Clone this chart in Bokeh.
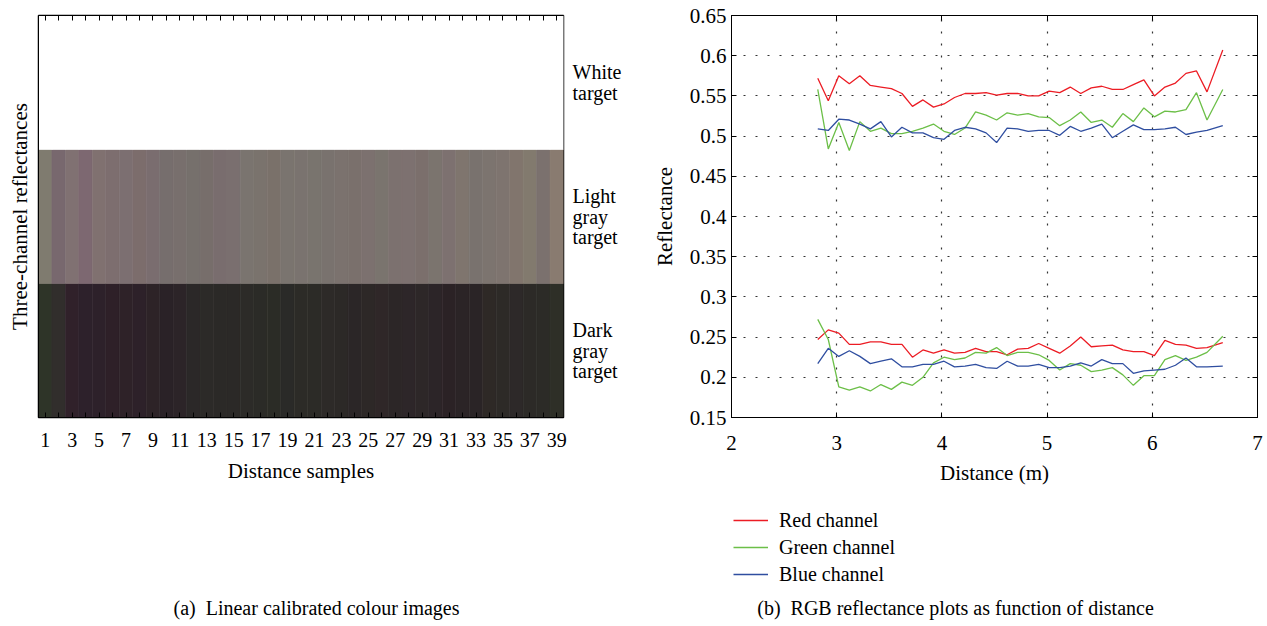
import numpy as np
from bokeh.plotting import figure
from bokeh.layouts import row, column
from bokeh.models import (ColumnDataSource, FixedTicker, Legend,
                          LegendItem, LinearAxis, Range1d)
from bokeh.embed import file_html
from bokeh.resources import INLINE

FONT = "Liberation Serif"

# ---------------------------------------------------------------- data
distance_m = [2.82, 2.92, 3.02, 3.12, 3.22, 3.32, 3.42, 3.52, 3.62, 3.72,
              3.82, 3.92, 4.02, 4.12, 4.22, 4.32, 4.42, 4.52, 4.62, 4.72,
              4.82, 4.92, 5.02, 5.12, 5.22, 5.32, 5.42, 5.52, 5.62, 5.72,
              5.82, 5.92, 6.02, 6.12, 6.22, 6.32, 6.42, 6.52, 6.67]

# light gray target, per channel
light_red = [0.572, 0.544, 0.575, 0.565, 0.575, 0.563, 0.561, 0.559, 0.553, 0.537,
             0.545, 0.536, 0.540, 0.548, 0.553, 0.553, 0.554, 0.551, 0.553, 0.553,
             0.550, 0.550, 0.556, 0.554, 0.561, 0.553, 0.560, 0.562, 0.558, 0.558,
             0.564, 0.570, 0.550, 0.561, 0.566, 0.578, 0.581, 0.555, 0.607]
light_green = [0.558, 0.484, 0.517, 0.482, 0.518, 0.506, 0.510, 0.503, 0.503, 0.506,
               0.510, 0.515, 0.506, 0.502, 0.510, 0.530, 0.526, 0.520, 0.529, 0.526,
               0.528, 0.524, 0.523, 0.513, 0.520, 0.530, 0.517, 0.520, 0.511, 0.528,
               0.518, 0.535, 0.524, 0.531, 0.530, 0.533, 0.554, 0.520, 0.558]
light_blue = [0.509, 0.507, 0.521, 0.520, 0.515, 0.509, 0.518, 0.499, 0.511, 0.504,
              0.504, 0.498, 0.496, 0.507, 0.511, 0.509, 0.504, 0.492, 0.510, 0.509,
              0.506, 0.507, 0.507, 0.501, 0.512, 0.506, 0.510, 0.515, 0.498, 0.506,
              0.514, 0.508, 0.508, 0.509, 0.511, 0.502, 0.505, 0.507, 0.513]

# dark gray target, per channel
dark_red = [0.247, 0.259, 0.255, 0.241, 0.241, 0.244, 0.244, 0.241, 0.241, 0.225,
            0.234, 0.230, 0.234, 0.230, 0.231, 0.236, 0.232, 0.232, 0.228, 0.235,
            0.236, 0.242, 0.236, 0.230, 0.239, 0.250, 0.238, 0.239, 0.240, 0.234,
            0.232, 0.232, 0.227, 0.246, 0.241, 0.240, 0.236, 0.237, 0.243]
dark_green = [0.272, 0.247, 0.188, 0.184, 0.188, 0.183, 0.191, 0.185, 0.194, 0.190,
              0.200, 0.218, 0.225, 0.222, 0.224, 0.231, 0.230, 0.237, 0.227, 0.231,
              0.231, 0.228, 0.221, 0.209, 0.217, 0.215, 0.207, 0.209, 0.212, 0.203,
              0.190, 0.202, 0.202, 0.222, 0.227, 0.221, 0.225, 0.231, 0.251]
dark_blue = [0.217, 0.236, 0.226, 0.233, 0.226, 0.217, 0.220, 0.223, 0.213, 0.213,
             0.216, 0.216, 0.220, 0.213, 0.214, 0.216, 0.212, 0.211, 0.220, 0.214,
             0.214, 0.216, 0.212, 0.212, 0.214, 0.218, 0.214, 0.222, 0.217, 0.217,
             0.205, 0.208, 0.209, 0.210, 0.215, 0.224, 0.213, 0.213, 0.214]

sample_ticks = list(range(1, 40))
sample_tick_labels = [str(i) if i % 2 else "" for i in sample_ticks]
target_rows = [0.5, 1.5, 2.5]
target_names = ["Dark\ngray\ntarget", "Light\ngray\ntarget", "White\ntarget"]

refl_ticks = [0.15, 0.2, 0.25, 0.3, 0.35, 0.4, 0.45, 0.5, 0.55, 0.6, 0.65]
refl_tick_labels = ["0.15", "0.2", "0.25", "0.3", "0.35", "0.4", "0.45",
                    "0.5", "0.55", "0.6", "0.65"]
dist_ticks = [2, 3, 4, 5, 6, 7]

channel_names = ["Red channel", "Green channel", "Blue channel"]
channel_colors = ["#ec1c24", "#6cbf48", "#2f4ea0"]

captions = ["(a)\u00a0 Linear calibrated colour images",
            "(b)\u00a0 RGB reflectance plots as function of distance"]


def to_display(refl):
    """Linear reflectance -> 8-bit display value."""
    v = 255 * 0.975 * np.clip(np.asarray(refl, dtype=float), 0, None) ** 1.2
    return np.clip(np.round(v), 0, 255).astype(int)


def hex_colours(r, g, b):
    return ["#%02x%02x%02x" % t for t in zip(to_display(r), to_display(g), to_display(b))]


def blank_axis(ticks):
    return LinearAxis(ticker=FixedTicker(ticks=ticks),
                      major_label_overrides={t: "" for t in ticks},
                      major_tick_in=5, major_tick_out=0,
                      minor_tick_line_color=None,
                      axis_line_color="black", major_tick_line_color="black")


def style_axis(ax, tick_size, label_size):
    ax.minor_tick_line_color = None
    ax.major_label_text_font = FONT
    ax.major_label_text_font_size = tick_size
    ax.major_label_text_color = "black"
    ax.axis_label_text_font = FONT
    ax.axis_label_text_font_size = label_size
    ax.axis_label_text_font_style = "normal"
    ax.axis_label_text_color = "black"


W, H, TOP_H = 1267, 626, 490

# ------------------------------------------------- (a) colour image strip
n = len(sample_ticks)
cells = ColumnDataSource(dict(
    left=[c - 0.5 for c in sample_ticks] * 3,
    right=[c + 0.5 for c in sample_ticks] * 3,
    bottom=[0] * n + [1] * n + [2] * n,
    top=[1] * n + [2] * n + [3] * n,
    colour=hex_colours(dark_red, dark_green, dark_blue)
    + hex_colours(light_red, light_green, light_blue)
    + ["#ffffff"] * n,
))

left = figure(width=640, height=TOP_H, x_range=Range1d(0.5, 39.5), y_range=Range1d(0, 3),
              output_backend="svg", toolbar_location=None,
              min_border_left=38, min_border_right=77, min_border_top=15,
              min_border_bottom=TOP_H - 417,
              outline_line_color="black", outline_line_width=1.5)
left.grid.visible = False
left.quad(left="left", right="right", bottom="bottom", top="top", source=cells,
          fill_color="colour", line_color="colour", line_width=0.6)

xa = left.xaxis[0]
xa.ticker = FixedTicker(ticks=sample_ticks)
xa.major_label_overrides = {t: s for t, s in zip(sample_ticks, sample_tick_labels)}
xa.major_tick_in = 5
xa.major_tick_out = 0
xa.major_label_standoff = 15
xa.axis_label = "Distance samples"
xa.axis_label_standoff = 9
style_axis(xa, "20px", "21px")

ya = left.yaxis[0]
ya.ticker = FixedTicker(ticks=[])
ya.major_tick_in = 0
ya.major_tick_out = 0
ya.axis_label = "Three-channel reflectances"
ya.axis_label_standoff = 7
style_axis(ya, "20px", "21px")

left.add_layout(blank_axis(sample_ticks), "above")

# target names beside the rows
side = LinearAxis(ticker=FixedTicker(ticks=target_rows),
                  major_label_overrides={t: s for t, s in zip(target_rows, target_names)},
                  major_tick_in=0, major_tick_out=0, axis_line_color=None,
                  major_label_standoff=9)
style_axis(side, "20px", "20px")
side.major_label_text_line_height = 0.93
left.add_layout(side, "right")

# ------------------------------------------- (b) reflectance vs distance
right = figure(width=627, height=TOP_H, x_range=Range1d(2, 7), y_range=Range1d(0.15, 0.65),
               output_backend="svg", toolbar_location=None,
               min_border_left=91, min_border_right=10, min_border_top=13,
               min_border_bottom=TOP_H - 425, outline_line_color="black", outline_line_width=1)

for g, ticks in ((right.xgrid[0], dist_ticks), (right.ygrid[0], refl_ticks)):
    g.ticker = FixedTicker(ticks=ticks[1:-1])
    g.grid_line_color = "#333333"
    g.grid_line_dash = "2 10"
    g.grid_line_width = 1.2

channel_series = (((light_red, dark_red), (light_green, dark_green),
                   (light_blue, dark_blue)))
for series, colour in zip(channel_series, channel_colors):
    for s in series:
        right.line(distance_m, s, line_color=colour, line_width=1.3)

bx = right.xaxis[0]
bx.ticker = FixedTicker(ticks=dist_ticks)
bx.axis_label = "Distance (m)"
by = right.yaxis[0]
by.ticker = FixedTicker(ticks=refl_ticks)
by.major_label_overrides = {t: s for t, s in zip(refl_ticks, refl_tick_labels)}
by.axis_label = "Reflectance"
for ax in (bx, by):
    ax.major_tick_in = 5
    ax.major_tick_out = 0
    style_axis(ax, "21px", "21px")
bx.major_label_standoff = 18
bx.axis_label_standoff = 8
by.major_label_standoff = 5
by.axis_label_standoff = 10

right.add_layout(blank_axis(dist_ticks), "above")
right.add_layout(blank_axis(refl_ticks), "right")

# ------------------------------------------- legend and sub-captions
# the footer canvas uses pixel-like ranges (y grows downward)
foot = figure(width=W, height=H - TOP_H, x_range=Range1d(0, W),
              y_range=Range1d(H - TOP_H, 0), output_backend="svg",
              toolbar_location=None, min_border=0, outline_line_color=None)
foot.axis.visible = False
foot.grid.visible = False

# legend keys: the channel series on a range that keeps them off this canvas
foot.extra_x_ranges = {"keys": Range1d(-200, -100)}
keys = [foot.line(distance_m, series[0], x_range_name="keys",
                  line_color=c, line_width=1.6)
        for series, c in zip(channel_series, channel_colors)]
legend = Legend(items=[LegendItem(label=name, renderers=[k])
                       for name, k in zip(channel_names, keys)],
                location=(733, H - 586), orientation="vertical",
                border_line_color=None, background_fill_alpha=0,
                label_text_font=FONT, label_text_font_size="20px",
                label_text_color="black",
                glyph_width=35, glyph_height=24, label_height=24,
                spacing=3, label_standoff=11, padding=0, margin=0)
foot.add_layout(legend)

foot.text(x=[316, 955], y=[607 - TOP_H] * 2, text=captions,
          text_align="center", text_baseline="middle",
          text_font={"value": FONT}, text_font_size="20px", text_color="black")

page = column(row(left, right), foot)
open("out.html", "w").write(file_html(page, INLINE))
